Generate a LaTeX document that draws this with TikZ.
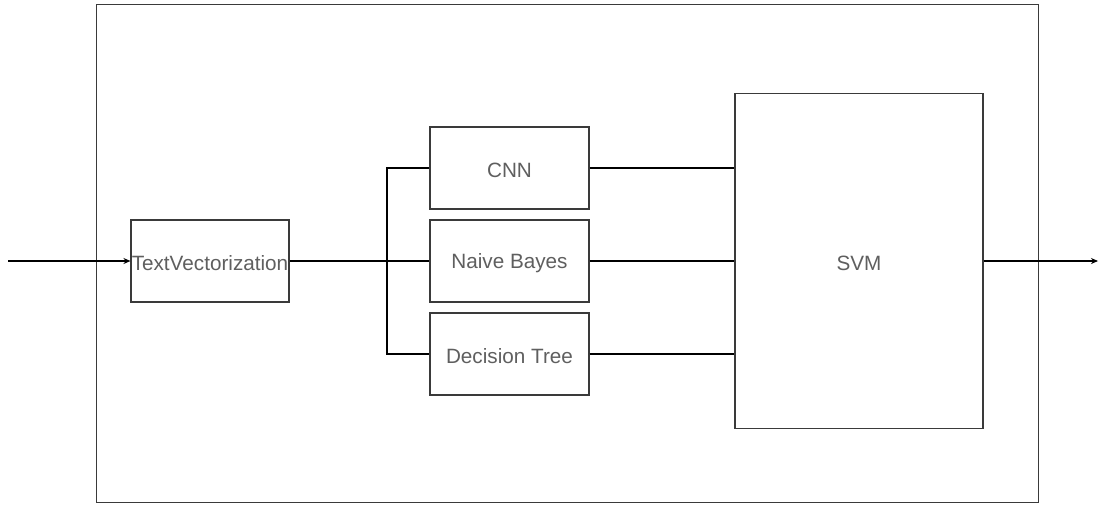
\documentclass[tikz,border=0pt]{standalone}
\usepackage{fontspec}
\setmainfont{Liberation Sans}
\usetikzlibrary{arrows.meta}
\definecolor{txt}{HTML}{5F5F5F}
\definecolor{bord}{HTML}{3A3A3A}
\newcommand{\lowtxt}[1]{\raisebox{-2.5pt}[\height][\depth]{#1}}
\begin{document}
\begin{tikzpicture}[x=1pt,y=-1pt,
  blk/.style={draw=bord,line width=1.1pt,fill=white,inner sep=0pt,font=\fontsize{20.7}{24}\selectfont,text=txt},
  conn/.style={draw=black,line width=1.2pt},
  arr/.style={conn,-{Stealth[length=7pt,width=6pt]}}]
\useasboundingbox (0,0) rectangle (1099,504);
\draw[bord,line width=0.9pt] (96,4) rectangle (1038,502);
\node[blk,minimum width=158pt,minimum height=82pt] (tv) at (210,261) {\lowtxt{TextVectorization}};
\node[blk,minimum width=159pt,minimum height=82pt] (cnn) at (509.5,168) {\lowtxt{CNN}};
\node[blk,minimum width=159pt,minimum height=82pt] (nb) at (509.5,261) {\lowtxt{Naive Bayes}};
\node[blk,minimum width=159pt,minimum height=82pt] (dt) at (509.5,354) {\lowtxt{Decision Tree}};
\node[blk,minimum width=248pt,minimum height=335pt] (svm) at (859,261) {\lowtxt{SVM}};
\coordinate (in) at (8,261);
\coordinate (out) at (1098,261);
\coordinate (br) at (387,261);
\draw[arr] (in) -- (tv.west);
\draw[conn] (tv.east) -- (br);
\draw[conn] (br) -- (nb.west);
\draw[conn] (br) |- (cnn.west);
\draw[conn] (br) |- (dt.west);
\draw[conn] (cnn.east) -- (cnn.east -| svm.west);
\draw[conn] (nb.east) -- (nb.east -| svm.west);
\draw[conn] (dt.east) -- (dt.east -| svm.west);
\draw[arr] (svm.east) -- (out);
\end{tikzpicture}
\end{document}
